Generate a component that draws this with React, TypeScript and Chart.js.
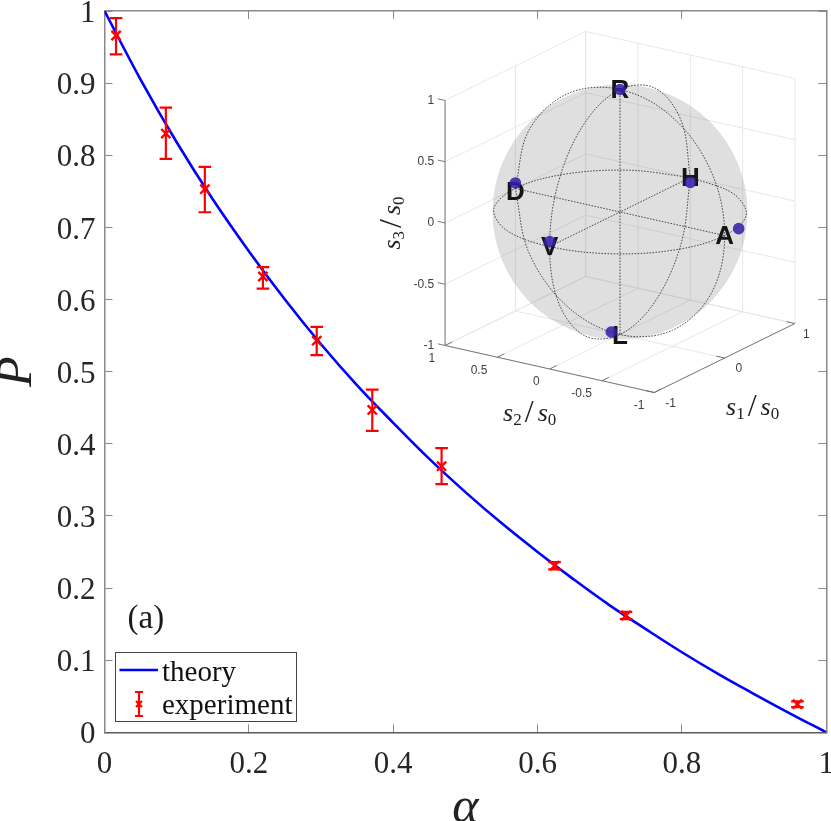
import React, { useEffect, useRef } from 'react';
import { Chart, registerables } from 'chart.js';

Chart.register(...registerables);

// main curve
const alphaGrid = [0, 0.05, 0.1, 0.15, 0.2, 0.25, 0.3, 0.35, 0.4, 0.45, 0.5, 0.55, 0.6, 0.65, 0.7, 0.75, 0.8, 0.85, 0.9, 0.95, 1];
const theoryP = [1, 0.905, 0.818, 0.739, 0.667, 0.6, 0.538, 0.481, 0.429, 0.379, 0.333, 0.29, 0.25, 0.212, 0.176, 0.143, 0.111, 0.081, 0.053, 0.026, 0];

const expAlpha = [0.016, 0.085, 0.139, 0.2195, 0.294, 0.371, 0.467, 0.6235, 0.7225, 0.96];
const expP = [0.966, 0.83, 0.753, 0.632, 0.543, 0.447, 0.369, 0.231, 0.162, 0.039];
const expLow = [0.94, 0.795, 0.721, 0.615, 0.523, 0.418, 0.344, 0.226, 0.157, 0.035];
const expHigh = [0.99, 0.866, 0.784, 0.645, 0.562, 0.475, 0.394, 0.236, 0.167, 0.043];

const xTicks = [0, 0.2, 0.4, 0.6, 0.8, 1];
const yTicks = [0, 0.1, 0.2, 0.3, 0.4, 0.5, 0.6, 0.7, 0.8, 0.9, 1];

// inset: Poincare sphere
const poleNames = ['H', 'V', 'D', 'A', 'R', 'L'];
const poleS1 = [1, -1, 0, 0, 0, 0];
const poleS2 = [0, 0, 1, -1, 0, 0];
const poleS3 = [0, 0, 0, 0, 1, -1];

const measS1 = [1, -1, 0, 0.2, 0, -0.05];
const measS2 = [0, 0, 1, -1, 0, 0.05];
const measS3 = [-0.04, 0.04, 0.045, 0, 1, -0.975];

const ringCos = [1, 0.87, 0.5, 0, -0.5, -0.87, -1, -0.87, -0.5, 0, 0.5, 0.87, 1];
const ringSin = [0, 0.5, 0.87, 1, 0.87, 0.5, 0, -0.5, -0.87, -1, -0.87, -0.5, 0];

const s1Ticks = [-1, 0, 1];
const s2Ticks = [-1, -0.5, 0, 0.5, 1];
const s3Ticks = [-1, -0.5, 0, 0.5, 1];

const SERIF = '"Liberation Serif", serif';
const SANS = '"Liberation Sans", sans-serif';
const AXIS_GREY = '#8a8a8a';

type Pt = { x: number; y: number };

// matlab view of the inset cube, in s3 units
const project = (s1: number, s2: number, s3: number): Pt => ({
  x: 0.574 * s1 - 0.854 * s2,
  y: 0.2816 * s1 + 0.192 * s2 + s3,
});

const segments = (pairs: [number[], number[]][]): Pt[] =>
  pairs.flatMap(([a, b]) => [
    project(a[0], a[1], a[2]),
    project(b[0], b[1], b[2]),
    { x: NaN, y: NaN },
  ]);

const noPadding = (s: any) => {
  s.paddingLeft = 0;
  s.paddingRight = 0;
  s.paddingTop = 0;
  s.paddingBottom = 0;
};

const mainOverlay = {
  id: 'mainOverlay',
  afterDraw(chart: any) {
    const { ctx, scales } = chart;
    ctx.save();
    ctx.fillStyle = '#1a1a1a';
    ctx.font = `33px ${SERIF}`;
    ctx.textBaseline = 'middle';
    ctx.fillText('(a)', scales.x.getPixelForValue(0.032), scales.y.getPixelForValue(0.157));

    // legend
    ctx.fillStyle = '#fff';
    ctx.strokeStyle = '#444';
    ctx.lineWidth = 1;
    ctx.fillRect(115.5, 652.5, 181, 69);
    ctx.strokeRect(115.5, 652.5, 181, 69);
    ctx.strokeStyle = '#0000ff';
    ctx.lineWidth = 2.4;
    ctx.beginPath();
    ctx.moveTo(119.5, 670);
    ctx.lineTo(158, 670);
    ctx.stroke();
    ctx.strokeStyle = '#ff0000';
    ctx.lineWidth = 2.2;
    ctx.beginPath();
    ctx.moveTo(139, 692);
    ctx.lineTo(139, 716);
    ctx.moveTo(135, 692);
    ctx.lineTo(143, 692);
    ctx.moveTo(135, 716);
    ctx.lineTo(143, 716);
    ctx.moveTo(136, 701);
    ctx.lineTo(142, 707);
    ctx.moveTo(142, 701);
    ctx.lineTo(136, 707);
    ctx.stroke();
    ctx.fillStyle = '#111';
    ctx.font = `29px ${SERIF}`;
    ctx.fillText('theory', 162, 673);
    ctx.fillText('experiment', 162, 706);
    ctx.restore();
  },
};

// s_n / s_0 axis label, drawn centred on the origin
const drawRatio = (ctx: CanvasRenderingContext2D, digit: string) => {
  const parts: [string, string, number, number][] = [
    ['s', `italic 26px ${SERIF}`, 0, 0],
    [digit, `17px ${SERIF}`, 4, 3],
    ['/', `32px ${SERIF}`, 1, 4],
    ['s', `italic 26px ${SERIF}`, 0, 0],
    ['0', `17px ${SERIF}`, 4, 0],
  ];
  let total = 0;
  parts.forEach(([t, f, , gap]) => {
    ctx.font = f;
    total += ctx.measureText(t).width + gap;
  });
  let x = -total / 2;
  parts.forEach(([t, f, dy, gap]) => {
    ctx.font = f;
    ctx.fillText(t, x, dy + 5);
    x += ctx.measureText(t).width + gap;
  });
};

const insetOverlay = {
  id: 'insetOverlay',
  // pole letters sit under the measured dots
  beforeDatasetDraw(chart: any, args: any) {
    if (chart.data.datasets[args.index].label !== 'stokes') return;
    const { ctx, scales } = chart;
    ctx.save();
    ctx.fillStyle = '#151515';
    ctx.font = `bold 26px ${SANS}`;
    ctx.textAlign = 'center';
    ctx.textBaseline = 'middle';
    poleNames.forEach((name, i) => {
      const p = project(poleS1[i], poleS2[i], poleS3[i]);
      const dy = name === 'L' ? 2 : name === 'D' ? 4 : 1;
      ctx.fillText(name, scales.x.getPixelForValue(p.x), scales.y.getPixelForValue(p.y) + dy);
    });
    ctx.restore();
  },
  afterDraw(chart: any) {
    const { ctx, scales } = chart;
    const px = (p: Pt) => [scales.x.getPixelForValue(p.x), scales.y.getPixelForValue(p.y)];
    ctx.save();
    ctx.fillStyle = '#404040';
    ctx.font = `12px ${SANS}`;
    ctx.textBaseline = 'middle';

    ctx.textAlign = 'right';
    s3Ticks.forEach(v => {
      const [x, y] = px(project(-1, 1, v));
      ctx.fillText(String(v), x - 11, y);
    });
    s2Ticks.forEach(v => {
      const [x, y] = px(project(-1, v, -1));
      ctx.fillText(String(v), x - 10, y + 13);
    });
    ctx.textAlign = 'left';
    s1Ticks.forEach(v => {
      const [x, y] = px(project(v, -1, -1));
      ctx.fillText(String(v), x + (v === 1 ? 8 : 11), y + 11);
    });

    ctx.fillStyle = '#222';
    ctx.textAlign = 'left';
    ctx.textBaseline = 'alphabetic';
    let [x, y] = px(project(-1, 0, -1));
    ctx.save();
    ctx.translate(x - 20, y + 47);
    drawRatio(ctx, '2');
    ctx.restore();
    [x, y] = px(project(0, -1, -1));
    ctx.save();
    ctx.translate(x + 28, y + 52);
    drawRatio(ctx, '1');
    ctx.restore();
    [x, y] = px(project(-1, 1, 0));
    ctx.save();
    ctx.translate(x - 50, y);
    ctx.rotate(-Math.PI / 2);
    drawRatio(ctx, '3');
    ctx.restore();
    ctx.restore();
  },
};

const MainChart: React.FC = () => {
  const canvasRef = useRef<HTMLCanvasElement | null>(null);

  useEffect(() => {
    if (!canvasRef.current) return;

    const stems = expAlpha.flatMap((a, i) => [
      { x: a, y: expLow[i] },
      { x: a, y: expHigh[i] },
      { x: NaN, y: NaN },
    ]);
    const caps = expAlpha.flatMap((a, i) => [
      { x: a, y: expLow[i] },
      { x: a, y: expHigh[i] },
    ]);

    const tickGrid = {
      drawOnChartArea: false,
      drawTicks: true,
      tickLength: -8,
      color: AXIS_GREY,
      lineWidth: 1,
    };
    const border = { color: AXIS_GREY, width: 1.5 };

    const chart = new Chart(canvasRef.current, {
      type: 'scatter',
      data: {
        datasets: [
          {
            label: 'theory',
            data: alphaGrid.map((a, i) => ({ x: a, y: theoryP[i] })),
            showLine: true,
            tension: 0.4,
            borderColor: '#0000ff',
            borderWidth: 2.6,
            pointRadius: 0,
            order: 3,
          },
          {
            label: 'stems',
            data: stems,
            showLine: true,
            borderColor: '#ff0000',
            borderWidth: 2.2,
            pointRadius: 0,
            order: 2,
          },
          {
            label: 'caps',
            data: caps,
            pointStyle: 'line',
            pointRadius: 6.3,
            pointBorderColor: '#ff0000',
            pointBorderWidth: 2.2,
            order: 1,
          },
          {
            label: 'experiment',
            data: expAlpha.map((a, i) => ({ x: a, y: expP[i] })),
            pointStyle: 'crossRot',
            pointRadius: 6.5,
            pointBorderColor: '#ff0000',
            pointBorderWidth: 2.4,
            order: 0,
          },
        ],
      },
      options: {
        animation: false,
        responsive: false,
        layout: { autoPadding: false, padding: { top: 11, right: 4.7, bottom: 0, left: 0 } },
        plugins: { legend: { display: false }, tooltip: { enabled: false } },
        scales: {
          x: {
            type: 'linear',
            position: 'bottom',
            min: 0,
            max: 1,
            afterBuildTicks: (s: any) => {
              s.ticks = xTicks.map(value => ({ value }));
            },
            afterFit: (s: any) => {
              s.height = 88.7;
              noPadding(s);
            },
            grid: tickGrid,
            border: { color: '#5a5a5a', width: 1.5 },
            ticks: {
              autoSkip: false,
              maxRotation: 0,
              padding: 22,
              color: '#262626',
              font: { family: SERIF, size: 31 },
              callback: (v: any) => String(v),
            },
            title: {
              display: true,
              text: 'α',
              color: '#222',
              padding: { top: 0, bottom: 0 },
              font: { family: SERIF, size: 50, style: 'italic', lineHeight: 0.5 },
            },
          },
          y: {
            type: 'linear',
            position: 'left',
            min: 0,
            max: 1,
            afterBuildTicks: (s: any) => {
              s.ticks = yTicks.map(value => ({ value }));
            },
            afterFit: (s: any) => {
              s.width = 104.5;
              noPadding(s);
            },
            grid: tickGrid,
            border,
            ticks: {
              autoSkip: false,
              padding: 17,
              color: '#262626',
              // blank first line pushes the digits down half a line height
              font: { family: SERIF, size: 31, lineHeight: '6px' },
              callback: (v: any) => ['', String(v)],
            },
            title: {
              display: true,
              text: 'P',
              color: '#222',
              padding: { top: 0, bottom: 0 },
              font: { family: SERIF, size: 50, style: 'italic', lineHeight: 0.72 },
            },
          },
          x2: {
            type: 'linear',
            axis: 'x',
            position: 'top',
            min: 0,
            max: 1,
            afterBuildTicks: (s: any) => {
              s.ticks = xTicks.map(value => ({ value }));
            },
            afterFit: (s: any) => {
              s.height = 0;
              noPadding(s);
            },
            grid: tickGrid,
            border,
            ticks: { display: false },
          },
          y2: {
            type: 'linear',
            axis: 'y',
            position: 'right',
            min: 0,
            max: 1,
            afterBuildTicks: (s: any) => {
              s.ticks = yTicks.map(value => ({ value }));
            },
            afterFit: (s: any) => {
              s.width = 0;
              noPadding(s);
            },
            grid: tickGrid,
            border,
            ticks: { display: false },
          },
        },
      } as any,
      plugins: [mainOverlay],
    });

    return () => {
      chart.destroy();
    };
  }, []);

  return <canvas ref={canvasRef} width={831} height={821} style={{ display: 'block' }} />;
};

const InsetChart: React.FC = () => {
  const canvasRef = useRef<HTMLCanvasElement | null>(null);

  useEffect(() => {
    if (!canvasRef.current) return;

    const gridPairs: [number[], number[]][] = [
      // wall s1 = 1
      ...s2Ticks.map((v): [number[], number[]] => [[1, v, -1], [1, v, 1]]),
      ...s3Ticks.map((v): [number[], number[]] => [[1, -1, v], [1, 1, v]]),
      // wall s2 = 1
      ...s1Ticks.map((v): [number[], number[]] => [[v, 1, -1], [v, 1, 1]]),
      ...s3Ticks.map((v): [number[], number[]] => [[-1, 1, v], [1, 1, v]]),
      // floor
      ...s1Ticks.map((v): [number[], number[]] => [[v, -1, -1], [v, 1, -1]]),
      ...s2Ticks.map((v): [number[], number[]] => [[-1, v, -1], [1, v, -1]]),
    ];
    const axisPairs: [number[], number[]][] = [
      [[-1, 1, -1], [-1, 1, 1]],
      [[-1, -1, -1], [-1, 1, -1]],
      [[-1, -1, -1], [1, -1, -1]],
      ...s3Ticks.map((v): [number[], number[]] => [[-1, 1, v], [-1, 1.07, v]]),
      ...s2Ticks.map((v): [number[], number[]] => [[-1, v, -1], [-0.9, v, -1]]),
      ...s1Ticks.map((v): [number[], number[]] => [[v, -1, -1], [v, -0.92, -1]]),
    ];

    const wire = (label: string, data: Pt[], tension: number) => ({
      label,
      data,
      showLine: true,
      tension,
      borderColor: '#222',
      borderWidth: 0.8,
      borderDash: [1.6, 1.4],
      pointRadius: 0,
      order: 1,
    });

    const chart = new Chart(canvasRef.current, {
      type: 'scatter',
      data: {
        datasets: [
          {
            label: 'stokes',
            data: measS1.map((s, i) => project(s, measS2[i], measS3[i])),
            pointRadius: 5.8,
            pointBorderWidth: 0,
            pointBackgroundColor: 'rgba(50, 30, 170, 0.86)',
            order: 0,
          },
          wire('equator', ringCos.map((c, i) => project(c, ringSin[i], 0)), 0.351),
          wire('meridian13', ringCos.map((c, i) => project(c, 0, ringSin[i])), 0.351),
          wire('meridian23', ringCos.map((c, i) => project(0, c, ringSin[i])), 0.351),
          wire('diameters', segments([
            [[1, 0, 0], [-1, 0, 0]],
            [[0, 1, 0], [0, -1, 0]],
            [[0, 0, 1], [0, 0, -1]],
          ]), 0),
          {
            label: 'sphere',
            data: [{ x: 0, y: 0 }],
            pointRadius: 127.5,
            pointBorderWidth: 0,
            pointBackgroundColor: 'rgba(120, 120, 120, 0.24)',
            order: 2,
          },
          {
            label: 'box',
            data: segments(axisPairs),
            showLine: true,
            borderColor: '#6a6a6a',
            borderWidth: 0.9,
            pointRadius: 0,
            order: 3,
          },
          {
            label: 'grid',
            data: segments(gridPairs),
            showLine: true,
            borderColor: '#e4e4e4',
            borderWidth: 0.9,
            pointRadius: 0,
            order: 4,
          },
        ],
      },
      options: {
        animation: false,
        responsive: false,
        layout: { autoPadding: false, padding: 0 },
        plugins: { legend: { display: false }, tooltip: { enabled: false } },
        scales: {
          x: { type: 'linear', display: false, min: -240 / 122.5, max: 200 / 122.5 },
          y: { type: 'linear', display: false, min: -228 / 122.5, max: 192 / 122.5 },
        },
      } as any,
      plugins: [insetOverlay],
    });

    return () => {
      chart.destroy();
    };
  }, []);

  return (
    <canvas
      ref={canvasRef}
      width={440}
      height={420}
      style={{ display: 'block', position: 'absolute', left: 380, top: 20 }}
    />
  );
};

const App: React.FC = () => (
  <div style={{ position: 'absolute', left: 0, top: 0, width: 831, height: 821, background: '#fff' }}>
    <MainChart />
    <InsetChart />
  </div>
);

export default App;
